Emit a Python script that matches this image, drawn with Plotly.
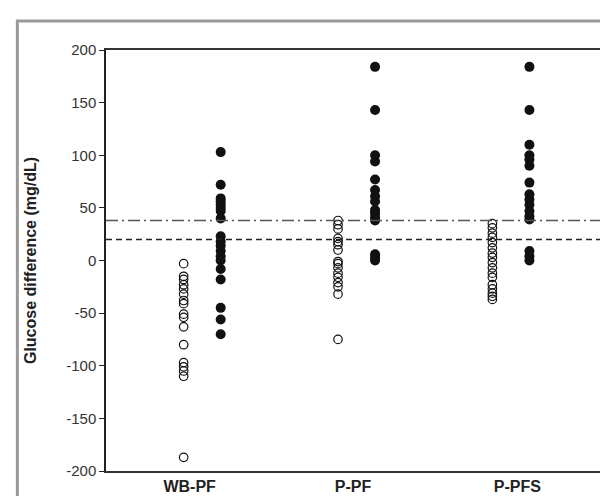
import plotly.graph_objects as go

groups = ["WB-PF", "P-PF", "P-PFS"]

y_ticks = [-200, -150, -100, -50, 0, 50, 100, 150, 200]
y_tick_labels = ["-200", "-150", "-100", "-50", "0", "50", "100", "150", "200"]

wbpf_open = [-3, -15, -18, -23, -27, -32, -38, -41, -51, -54, -63, -80, -97, -101, -105, -110, -187]
wbpf_filled = [103, 72, 59, 56, 53, 50, 47, 40, 23, 18, 14, 9, 4, 0, -8, -18, -45, -56, -70]
ppf_open = [38, 34, 30, 21, 18, 15, 10, -1, -3, -7, -12, -16, -21, -25, -32, -75]
ppf_filled = [184, 143, 100, 94, 77, 67, 61, 56, 48, 45, 41, 38, 6, 3, 0]
ppfs_open = [35, 31, 26, 22, 17, 12, 7, 3, -2, -7, -12, -16, -23, -27, -31, -34, -37]
ppfs_filled = [184, 143, 110, 100, 96, 90, 74, 63, 58, 53, 47, 42, 39, 9, 4, 0]

open_series = [wbpf_open, ppf_open, ppfs_open]
filled_series = [wbpf_filled, ppf_filled, ppfs_filled]

mean_line = 20
limit_line = 38

group_pos = [1, 2, 3]
label_pos = [0.919, 1.977, 3.042]
offset = 0.12

fig = go.Figure()
for i, g in enumerate(groups):
    vals = open_series[i]
    fig.add_trace(go.Scatter(
        x=[group_pos[i] - offset] * len(vals), y=vals, mode="markers",
        marker=dict(symbol="circle-open", size=8.5, color="#111", line=dict(width=1.2, color="#111")),
        showlegend=False))
    vals = filled_series[i]
    fig.add_trace(go.Scatter(
        x=[group_pos[i] + offset] * len(vals), y=vals, mode="markers",
        marker=dict(symbol="circle", size=10, color="#111", line=dict(width=0)),
        showlegend=False))

fig.add_shape(type="line", xref="paper", x0=0, x1=1, yref="y", y0=limit_line, y1=limit_line,
              line=dict(color="#555", width=1.5, dash="12px,4px,2px,4px"))
fig.add_shape(type="line", xref="paper", x0=0, x1=1, yref="y", y0=mean_line, y1=mean_line,
              line=dict(color="#222", width=1.5, dash="6px,4px"))

# outer gray frame
fig.add_shape(type="rect", xref="paper", yref="paper",
              x0=(9 - 98) / 504, x1=(620 - 98) / 504,
              y0=(463 - 510) / 421, y1=(463 - 13) / 421,
              line=dict(color="#9a9a9a", width=3), layer="below")

fig.update_layout(
    width=608, height=496,
    margin=dict(l=98, r=6, t=42, b=33),
    paper_bgcolor="white", plot_bgcolor="white",
    font=dict(family="Arial, Liberation Sans, sans-serif", color="#222"),
    xaxis=dict(range=[0.377, 3.629], tickvals=label_pos, ticktext=groups,
               showgrid=False, zeroline=False, ticks="",
               showline=True, linecolor="#333", linewidth=1.5, mirror=True,
               tickfont=dict(size=16, color="#222", family="Arial, Liberation Sans, sans-serif", weight="bold")),
    yaxis=dict(range=[-200, 200], tickvals=y_ticks, ticktext=y_tick_labels,
               showgrid=False, zeroline=False, ticks="outside", ticklen=5, tickcolor="#222",
               showline=True, linecolor="#222", linewidth=1.5, mirror=True,
               tickfont=dict(size=15, color="#333"),
               title=dict(text="<b>Glucose difference (mg/dL)</b>", font=dict(size=16, color="#222"), standoff=26)),
)

fig.write_html("out.html")
